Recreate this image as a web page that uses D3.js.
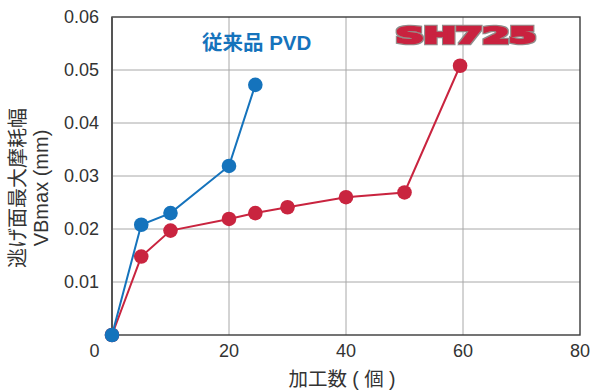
<!DOCTYPE html>
<html><head><meta charset="utf-8">
<script src="https://cdn.jsdelivr.net/npm/d3@7"></script>
<style>
html,body{margin:0;padding:0;background:#fff;}
svg{display:block;}
text{font-family:"Liberation Sans",Arial,"Noto Sans CJK JP",sans-serif;}
</style></head>
<body>
<svg id="chart" width="595" height="391"></svg>
<script>
const xTicks = [20, 40, 60, 80];
const yTicks = [0.01, 0.02, 0.03, 0.04, 0.05, 0.06];
const yTickLabels = ["0.01", "0.02", "0.03", "0.04", "0.05", "0.06"];
const pvdX = [0, 5, 10, 20, 24.5];
const pvdY = [0, 0.0208, 0.023, 0.0319, 0.0472];
const shX = [0, 5, 10, 20, 24.5, 30, 40, 50, 59.5];
const shY = [0, 0.0148, 0.0197, 0.0219, 0.023, 0.0241, 0.026, 0.0269, 0.0508];
const pvdLabel = "従来品 PVD";
const shLabel = "SH725";
const xTitle = "加工数 ( 個 )";
const yTitle1 = "逃げ面最大摩耗幅";
const yTitle2 = "VBmax (mm)";

const blue = "#1573bc", red = "#c9243f";
const svg = d3.select("#chart");
const x = d3.scaleLinear().domain([0, 80]).range([112, 580]);
const y = d3.scaleLinear().domain([0, 0.06]).range([335, 17]);

// outline filter for logo
const defs = svg.append("defs");
const f = defs.append("filter").attr("id", "outline").attr("x", "-5%").attr("y", "-20%").attr("width", "110%").attr("height", "140%");
f.append("feMorphology").attr("in", "SourceAlpha").attr("operator", "dilate").attr("radius", 0.9).attr("result", "dil");
f.append("feFlood").attr("flood-color", "#8c8c8c").attr("result", "grey");
f.append("feComposite").attr("in", "grey").attr("in2", "dil").attr("operator", "in").attr("result", "ring");
const m = f.append("feMerge");
m.append("feMergeNode").attr("in", "ring");
m.append("feMergeNode").attr("in", "SourceGraphic");

// grid
svg.append("g").selectAll("line.v").data(xTicks.slice(0, 3)).join("line")
  .attr("x1", d => x(d)).attr("x2", d => x(d))
  .attr("y1", y(0)).attr("y2", y(0.06))
  .attr("stroke", "#a8a8a8").attr("stroke-width", 1);
svg.append("g").selectAll("line.h").data(yTicks.slice(0, 5)).join("line")
  .attr("x1", x(0)).attr("x2", x(80))
  .attr("y1", d => y(d)).attr("y2", d => y(d))
  .attr("stroke", "#a8a8a8").attr("stroke-width", 1);

// frame
svg.append("rect").attr("x", x(0)).attr("y", y(0.06))
  .attr("width", x(80) - x(0)).attr("height", y(0) - y(0.06))
  .attr("fill", "none").attr("stroke", "#3a3a3a").attr("stroke-width", 1.4);
svg.append("line").attr("x1", x(0)).attr("x2", x(0)).attr("y1", y(0.06)).attr("y2", y(0))
  .attr("stroke", "#555").attr("stroke-width", 2);

// tick labels
svg.append("g").selectAll("text").data(yTicks).join("text")
  .attr("x", 99).attr("y", d => y(d)).attr("dy", "0.36em")
  .attr("text-anchor", "end").attr("font-size", 18).attr("fill", "#333")
  .text((d, i) => yTickLabels[i]);
svg.append("g").selectAll("text").data(xTicks).join("text")
  .attr("x", d => x(d)).attr("y", 357)
  .attr("text-anchor", "middle").attr("font-size", 18).attr("fill", "#333")
  .text(d => d);
svg.append("text").attr("x", 94.5).attr("y", 357).attr("text-anchor", "middle")
  .attr("font-size", 18).attr("fill", "#333").text("0");

// titles
svg.append("text").attr("x", 342).attr("y", 386).attr("text-anchor", "middle")
  .attr("font-size", 19.5).attr("fill", "#333")
  .style("font-family", "'Liberation Sans','Noto Sans CJK JP',sans-serif").text(xTitle);
svg.append("text").attr("transform", "translate(25,188) rotate(-90)")
  .attr("text-anchor", "middle").attr("font-size", 20).attr("fill", "#333")
  .style("font-family", "'Noto Sans CJK JP',sans-serif").text(yTitle1);
svg.append("text").attr("transform", "translate(48,188) rotate(-90)")
  .attr("text-anchor", "middle").attr("font-size", 20).attr("fill", "#333").text(yTitle2);

// series
function series(xs, ys, color) {
  const pts = xs.map((d, i) => [d, ys[i]]);
  const line = d3.line().x(d => x(d[0])).y(d => y(d[1]));
  svg.append("path").datum(pts).attr("d", line).attr("fill", "none")
    .attr("stroke", color).attr("stroke-width", 2);
  svg.append("g").selectAll("circle").data(pts).join("circle")
    .attr("cx", d => x(d[0])).attr("cy", d => y(d[1])).attr("r", 7.3)
    .attr("fill", color);
}
series(shX, shY, red);
series(pvdX, pvdY, blue);

// legends
svg.append("text").attr("x", 202).attr("y", 49.5).attr("font-size", 20.5)
  .attr("font-weight", "bold").attr("fill", blue)
  .style("font-family", "'Liberation Sans','Noto Sans CJK JP',sans-serif").text(pvdLabel);
svg.append("text").attr("x", 396).attr("y", 43).attr("font-size", 21)
  .attr("font-weight", "bold").attr("fill", red).attr("stroke", red).attr("stroke-width", 2.4)
  .attr("stroke-linejoin", "miter")
  .attr("textLength", 140).attr("lengthAdjust", "spacingAndGlyphs")
  .attr("filter", "url(#outline)")
  .style("font-family", "'DejaVu Sans',sans-serif").text(shLabel);
</script>
</body></html>
